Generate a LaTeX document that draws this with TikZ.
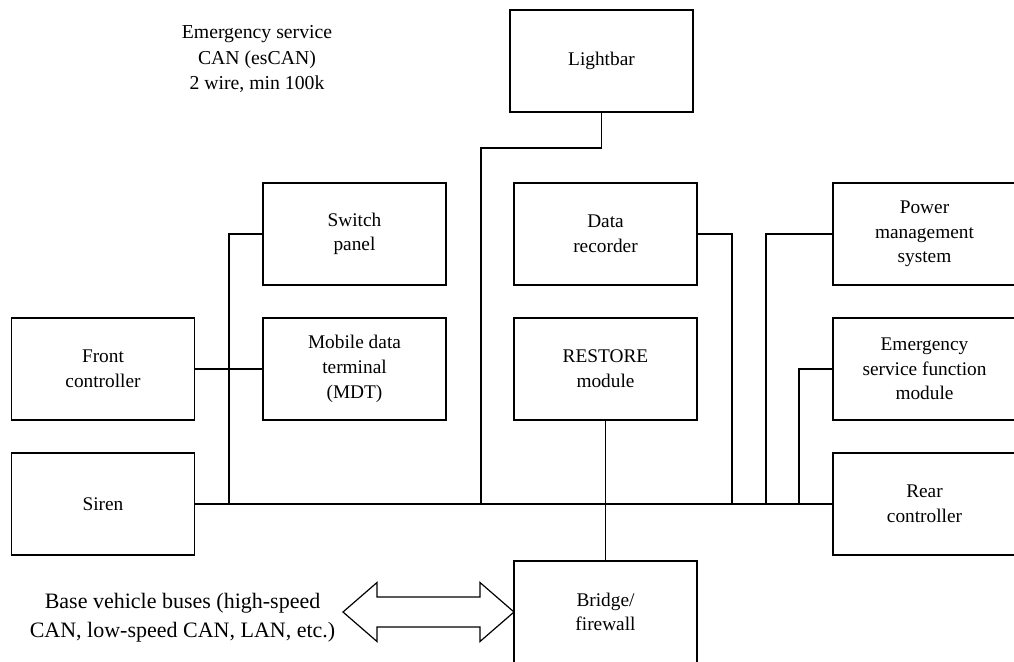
\documentclass[tikz,border=0pt]{standalone}
\usepackage{fontspec}
\setmainfont{Liberation Serif}
\begin{document}
\begin{tikzpicture}[x=0.75pt,y=-0.75pt]
		\tikzset{unit/.style = {shape=rectangle,draw,line width=0.9pt,inner sep=0pt,outer sep=0pt,minimum width=137.25pt,minimum height=76.5pt,align=center,font=\fontsize{14.5}{18.5}\selectfont}}
		\tikzset{wire/.style = {draw,line width=0.9pt}}
		\useasboundingbox (0,0) rectangle (1014,661);
		\clip (0,0) rectangle (1014,661);
		\node[align=center,font=\fontsize{14.8}{19}\selectfont] (escan) at (257,59) {Emergency service\\CAN (esCAN)\\2 wire, min 100k};
		\node[unit] (lightbar) at (601.5,61) {Lightbar};
		\node[unit] (switch) at (354.5,234) {Switch\\panel};
		\node[unit] (mdt) at (354.5,369) {Mobile data\\terminal\\(MDT)};
		\node[unit] (front) at (103,369) {Front\\controller};
		\node[unit] (siren) at (103,504) {Siren};
		\node[unit] (recorder) at (605.5,234) {Data\\recorder};
		\node[unit] (restore) at (605.5,369) {RESTORE\\module};
		\node[unit] (bridge) at (605.5,612) {Bridge/\\firewall};
		\node[unit] (power) at (924.5,234) {Power\\management\\system};
		\node[unit] (esfm) at (924.5,369) {Emergency\\service function\\module};
		\node[unit] (rear) at (924.5,504) {Rear\\controller};
		\node[align=center,font=\fontsize{16.5}{22}\selectfont,anchor=east] (buses) at (340,618) {Base vehicle buses (high-speed\\CAN, low-speed CAN, LAN, etc.)};
		\coordinate (tapswitch) at (229,504);
		\coordinate (taplight) at (481,504);
		\coordinate (taprec) at (732,504);
		\coordinate (tappower) at (766,504);
		\coordinate (tapesfm) at (799,504);
		\path[wire] (siren) -- (rear);
		\path[wire] (front) -- (mdt);
		\path[wire] (switch.west) -| (tapswitch);
		\path[wire] (lightbar.south) -- ++(0,36) -| (taplight);
		\path[wire] (recorder.east) -| (taprec);
		\path[wire] (power.west) -| (tappower);
		\path[wire] (esfm.west) -| (tapesfm);
		\path[wire] (restore) -- (bridge);
		\draw[line width=0.9pt,fill=white] (bridge.west) -- ++(-34,-29.5) -- ++(0,14.5) -- ++(-103,0) -- ++(0,-14.5) -- ++(-34,29.5) -- ++(34,29.5) -- ++(0,-14.5) -- ++(103,0) -- ++(0,14.5) -- cycle;
	\end{tikzpicture}
\end{document}
